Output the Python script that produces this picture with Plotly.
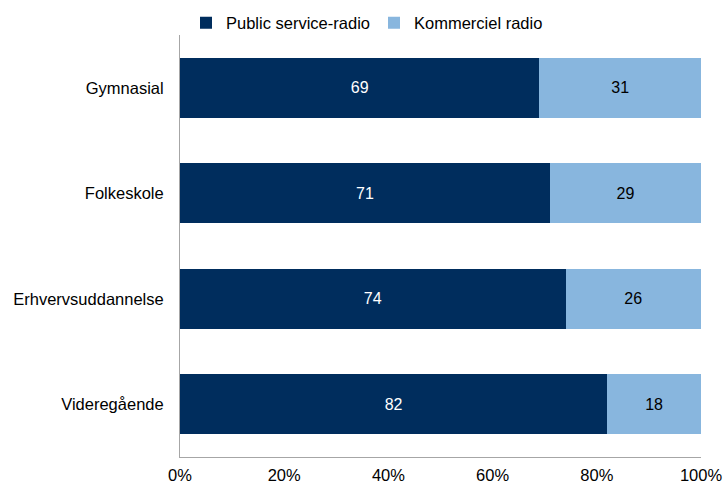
import plotly.graph_objects as go

categories = ["Gymnasial", "Folkeskole", "Erhvervsuddannelse", "Videregående"]
public_service = [69, 71, 74, 82]
kommerciel = [31, 29, 26, 18]
x_ticks = [0, 20, 40, 60, 80, 100]
x_tick_labels = ["0%", "20%", "40%", "60%", "80%", "100%"]

FONT = "Liberation Sans, Arial, sans-serif"
W, H = 725, 485

fig = go.Figure()
fig.add_trace(go.Bar(
    y=categories, x=public_service, orientation="h",
    name="Public service-radio",
    marker=dict(color="#002D5D", line=dict(width=0)),
    text=public_service, textposition="inside", insidetextanchor="middle",
    textfont=dict(color="white", size=16, family=FONT),
))
fig.add_trace(go.Bar(
    y=categories, x=kommerciel, orientation="h",
    name="Kommerciel radio",
    marker=dict(color="#88B6DE", line=dict(width=0)),
    text=kommerciel, textposition="inside", insidetextanchor="middle",
    textfont=dict(color="black", size=16, family=FONT),
))

fig.update_layout(
    barmode="stack",
    bargap=0.43,
    width=W, height=H,
    margin=dict(l=180, r=24, t=35, b=28, autoexpand=False),
    plot_bgcolor="white", paper_bgcolor="white",
    font=dict(family=FONT, size=16.5, color="black"),
    uniformtext=dict(mode=False),
    legend=dict(
        orientation="h",
        xref="container", x=186 / W, xanchor="left",
        yref="container", y=1 - 23 / H, yanchor="middle",
        font=dict(size=16.5), traceorder="normal",
        entrywidth=143, entrywidthmode="pixels",
        bgcolor="rgba(0,0,0,0)",
    ),
    xaxis=dict(
        range=[0, 100], tickvals=x_ticks, ticktext=x_tick_labels,
        showgrid=False, zeroline=False, automargin=False,
        showline=True, linecolor="#A6A6A6", linewidth=1,
        ticks="", ticklabelstandoff=3, tickfont=dict(size=16.5),
    ),
    yaxis=dict(
        categoryorder="array", categoryarray=categories[::-1],
        showgrid=False, zeroline=False, automargin=False,
        showline=True, linecolor="#A6A6A6", linewidth=1,
        ticks="", ticklabelstandoff=12, tickfont=dict(size=16.5),
    ),
)

fig.write_html("out.html")
